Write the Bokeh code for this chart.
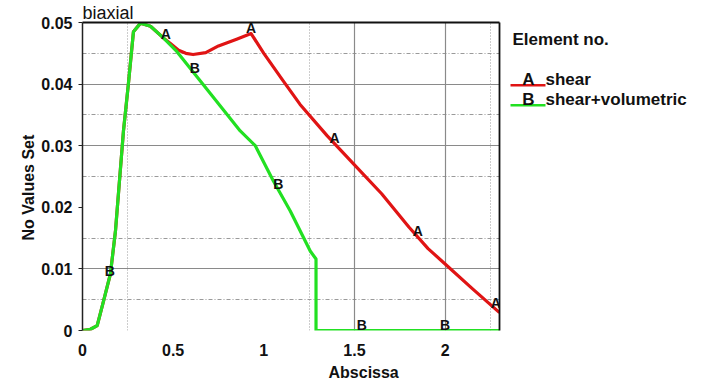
import numpy as np
from bokeh.plotting import figure
from bokeh.layouts import row
from bokeh.models import Range1d, FixedTicker, Grid, LinearAxis, Title, ColumnDataSource
from bokeh.core.properties import value
from bokeh.embed import file_html
from bokeh.resources import INLINE

# ---- data -------------------------------------------------------------
shear_x = [0, 0.044, 0.081, 0.117, 0.154, 0.182, 0.226, 0.253, 0.281, 0.32,
           0.375, 0.446, 0.485, 0.53, 0.57, 0.61, 0.68, 0.75, 0.85, 0.93, 1.0,
           1.1, 1.2, 1.35, 1.5, 1.65, 1.8, 1.906, 2.0, 2.15, 2.3]
shear_y = [0, 0.0002, 0.0008, 0.0049, 0.0092, 0.0162, 0.0324, 0.040, 0.0485, 0.0499,
           0.0494, 0.0475, 0.0466, 0.0455, 0.0450, 0.0448, 0.0451, 0.0462, 0.0473, 0.0482, 0.0450,
           0.0408, 0.0367, 0.0316, 0.0269, 0.0222, 0.0168, 0.0133, 0.0108, 0.0068, 0.0029]

vol_x = [0, 0.044, 0.081, 0.117, 0.154, 0.182, 0.226, 0.253, 0.281, 0.32,
         0.375, 0.446, 0.52, 0.65, 0.87, 0.953, 1.052, 1.146, 1.256, 1.288, 1.288, 2.3]
vol_y = [0, 0.0002, 0.0008, 0.0049, 0.0092, 0.0162, 0.0324, 0.040, 0.0485, 0.0499,
         0.0494, 0.0475, 0.0453, 0.0405, 0.0324, 0.030, 0.0243, 0.0194, 0.0129, 0.0116, 0, 0]

# curve marker letters and where they sit along each curve
shear_marks_x = [0.46, 0.93, 1.39, 1.85, 2.28]
vol_marks_x = [0.15, 0.62, 1.08, 1.54, 2.00]

series_names = ["shear", "shear+volumetric"]
series_letters = ["A", "B"]
series_colors = ["#e01414", "#22e022"]

x_ticks = [0, 0.5, 1, 1.5, 2]
x_tick_labels = ["0", "0.5", "1", "1.5", "2"]
y_ticks = [0, 0.01, 0.02, 0.03, 0.04, 0.05]
y_tick_labels = ["0", "0.01", "0.02", "0.03", "0.04", "0.05"]

FONT_NAME = "Liberation Sans"
FONT = value(FONT_NAME)
INK = "#111111"

# ---- main plot --------------------------------------------------------
p = figure(width=505, height=384, x_range=Range1d(0, 2.3), y_range=Range1d(0, 0.05),
           min_border_left=82, min_border_right=6, min_border_top=21, min_border_bottom=54,
           output_backend="svg", toolbar_location=None)
p.outline_line_color = None
p.xgrid.visible = False
p.ygrid.visible = False

# title in the top-left corner
p.title.text = "biaxial"
p.title.align = "left"
p.title.text_font = FONT_NAME
p.title.text_font_style = "normal"
p.title.text_font_size = "18px"
p.title.text_color = INK
p.title.standoff = 0

# grid lines
grid_col = "#9a9a9a"
p.add_layout(Grid(dimension=1, ticker=FixedTicker(ticks=[0.01, 0.03, 0.04]),
                  grid_line_color="#8a8a8a", grid_line_width=1.2))
p.add_layout(Grid(dimension=1, ticker=FixedTicker(ticks=[0.005, 0.015, 0.025, 0.035, 0.045]),
                  grid_line_color=grid_col, grid_line_dash="4 2 1 2", grid_line_width=1))
p.add_layout(Grid(dimension=0, ticker=FixedTicker(ticks=[1.5, 2.0]),
                  grid_line_color="#8a8a8a", grid_line_width=1.2))
p.add_layout(Grid(dimension=0, ticker=FixedTicker(ticks=[0.25, 1.25, 2.25]),
                  grid_line_color=grid_col, grid_line_dash="1 2", grid_line_width=1))

# axes
xa = p.xaxis[0]
xa.ticker = FixedTicker(ticks=x_ticks)
xa.major_label_overrides = dict(zip(x_ticks, x_tick_labels))
xa.axis_line_color = None
xa.major_tick_line_color = None
xa.minor_tick_line_color = None
xa.major_label_standoff = 7
xa.major_label_text_font = FONT_NAME
xa.major_label_text_font_style = "bold"
xa.major_label_text_font_size = "16px"
xa.major_label_text_color = INK

ya = p.yaxis[0]
ya.ticker = FixedTicker(ticks=y_ticks)
ya.major_label_overrides = dict(zip(y_ticks, y_tick_labels))
ya.axis_line_color = "#222222"
ya.axis_line_width = 1.5
ya.major_tick_line_color = "#222222"
ya.major_tick_out = 4
ya.major_tick_in = 0
ya.minor_tick_line_color = None
ya.major_label_standoff = 6
ya.major_label_text_font = FONT_NAME
ya.major_label_text_font_style = "bold"
ya.major_label_text_font_size = "16px"
ya.major_label_text_color = INK

# plain frame lines on the right and on top
for side in ("right", "above"):
    p.add_layout(LinearAxis(ticker=FixedTicker(ticks=[]), axis_line_color="#111111",
                            axis_line_width=1.8, major_tick_line_color=None,
                            minor_tick_line_color=None, major_label_standoff=0), side)

# axis captions
p.add_layout(Title(text="Abscissa", align="left", offset=246, standoff=6,
                   text_font=FONT_NAME, text_font_style="bold", text_font_size="16px",
                   text_color=INK), "below")
p.add_layout(Title(text="No Values Set", align="left", offset=90, standoff=3,
                   text_font=FONT_NAME, text_font_style="bold", text_font_size="16px",
                   text_color=INK), "left")

# curves (shear first so the volumetric curve lies on top)
curves = [(shear_x, shear_y, shear_marks_x), (vol_x, vol_y, vol_marks_x)]
for (cx, cy, mx), color in zip(curves, series_colors):
    p.line(cx, cy, line_color=color, line_width=3.2, line_join="round")

for (cx, cy, mx), letter in zip(curves, series_letters):
    my = np.interp(mx, cx, cy)
    src = ColumnDataSource(dict(x=mx, y=list(my), t=[letter] * len(mx)))
    p.text("x", "y", text="t", source=src, text_font=FONT, text_font_style="bold",
           text_font_size="14px", text_align="center", text_baseline="middle",
           y_offset=-6, text_color=INK)

# ---- legend panel (y in pixels from the top of the page) --------------
leg = figure(width=205, height=384, x_range=Range1d(0, 205), y_range=Range1d(330, 21),
             min_border=0, x_axis_location=None, y_axis_location=None,
             output_backend="svg", toolbar_location=None)
leg.outline_line_color = None
leg.xgrid.visible = False
leg.ygrid.visible = False

leg.text([7], [38], text=["Element no."], text_font=FONT, text_font_style="bold",
         text_font_size="17px", text_baseline="middle", text_color=INK)
for i, (name, letter, color) in enumerate(zip(series_names, series_letters, series_colors)):
    ly = 84 + 20 * i
    leg.line([5, 40], [ly, ly], line_color=color, line_width=2.5)
    leg.text([23], [ly - 6], text=[letter], text_font=FONT, text_font_style="bold",
             text_font_size="17px", text_align="center", text_baseline="middle",
             text_color=INK)
    leg.text([40], [ly - 6], text=[name], text_font=FONT, text_font_style="bold",
             text_font_size="17px", text_baseline="middle", text_color=INK)

layout = row(p, leg)
open("out.html", "w").write(file_html(layout, INLINE))
